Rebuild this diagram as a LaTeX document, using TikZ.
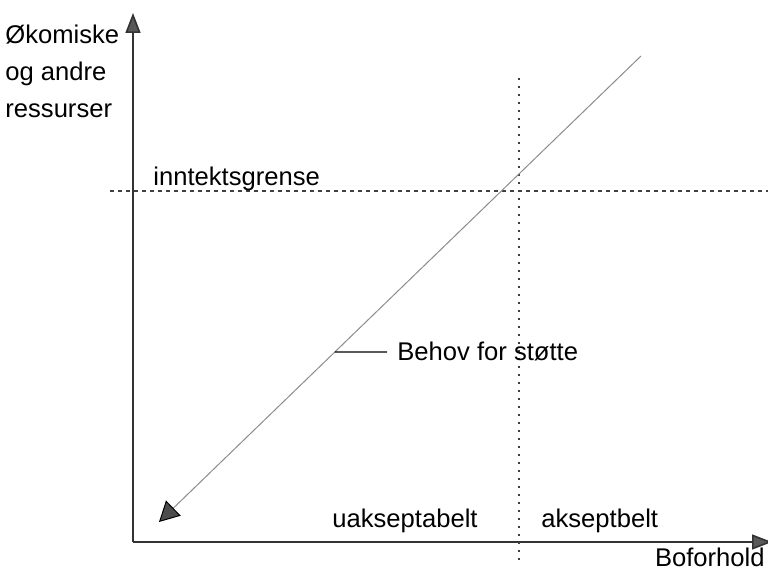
\documentclass[tikz,border=0pt]{standalone}
\usepackage{fontspec}
\setmainfont{Liberation Sans}
\usetikzlibrary{arrows.meta}

\begin{document}
\begin{tikzpicture}[
      x=0.5pt, y=-0.5pt,
      lbl/.style={inner sep=0pt, font=\fontsize{12.8}{18.5}\selectfont},
      axis/.style={line width=0.8pt, draw=black!80, -{Triangle[length=10pt, width=7.5pt, fill=black!65]}},
      dotline/.style={line width=0.7pt, draw=black!75, dash pattern=on 2pt off 2pt},
      needline/.style={line width=0.5pt, draw=black!45, -{Triangle[length=10pt, width=10.5pt, color=black, fill=black!70]}},
      leader/.style={line width=0.6pt, draw=black}
  ]
    \useasboundingbox (0,0) rectangle (768,571);

    \coordinate (origin) at (133,542);
    \coordinate (ytop) at (133,13);
    \coordinate (xend) at (772,542);
    \draw[axis] (origin) -- (ytop);
    \draw[axis] (origin) -- (xend);

    \coordinate (incleft) at (110,191);
    \coordinate (incright) at (768,191);
    \coordinate (acctop) at (519,78);
    \coordinate (accbot) at (519,564);
    \draw[dotline] (incleft) -- (incright);
    \draw[dotline, dash pattern=on 1pt off 3pt] (acctop) -- (accbot);

    \coordinate (needtop) at (641,56);
    \coordinate (needtip) at (159,522);
    \draw[needline] (needtop) -- coordinate[pos=0.635] (lead) (needtip);

    \node[lbl, anchor=north west, align=left] (ylabel) at (5,25) {Økomiske\\og andre\\ressurser};
    \node[lbl, anchor=base east] (xlabel) at (765,567) {Boforhold};
    \node[lbl, anchor=base west] (income) at (153,186) {inntektsgrense};
    \node[lbl, anchor=base west] (need) at (397,361) {Behov for støtte};
    \node[lbl, anchor=base west] (unacc) at (332,528) {uakseptabelt};
    \node[lbl, anchor=base west] (acc) at (541,528) {akseptbelt};

    \draw[leader] (lead) -- ([xshift=-5pt]need.west);
  \end{tikzpicture}
\end{document}
